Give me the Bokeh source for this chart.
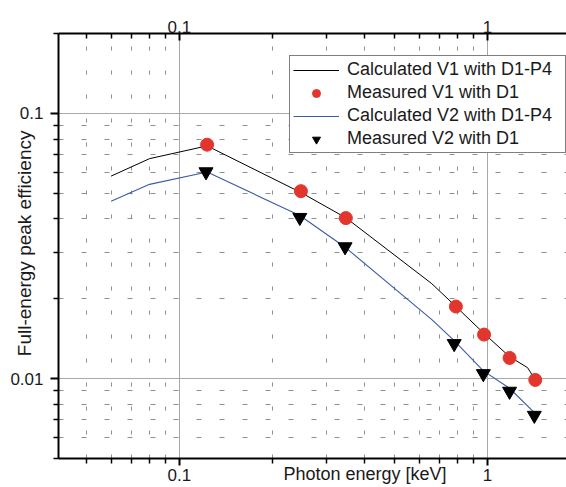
import math
from bokeh.plotting import figure
from bokeh.models import (LogAxis, FixedTicker, CustomJSTickFormatter, Legend,
                          LegendItem, Range1d)
from bokeh.embed import file_html
from bokeh.resources import INLINE

# ---- data ----
calc_v1_energy = [0.06, 0.08, 0.123, 0.248, 0.347, 0.66, 0.79, 0.975, 1.18, 1.35, 1.43]
calc_v1_eff = [0.0580, 0.0675, 0.0754, 0.0503, 0.0404, 0.0228, 0.0187, 0.0148, 0.0121, 0.0110, 0.0099]

meas_v1_energy = [0.123, 0.248, 0.347, 0.79, 0.975, 1.18, 1.43]
meas_v1_eff = [0.0762, 0.0509, 0.0403, 0.0187, 0.01466, 0.01197, 0.00989]

calc_v2_energy = [0.06, 0.08, 0.123, 0.246, 0.345, 0.66, 0.78, 0.97, 1.18, 1.42]
calc_v2_eff = [0.0466, 0.0540, 0.0601, 0.0412, 0.0313, 0.0167, 0.0139, 0.0107, 0.0092, 0.00745]

meas_v2_energy = [0.122, 0.246, 0.345, 0.78, 0.97, 1.18, 1.42]
meas_v2_eff = [0.0602, 0.0405, 0.0314, 0.01355, 0.01044, 0.00896, 0.00727]

series_labels = ["Calculated V1 with D1-P4", "Measured V1 with D1",
                 "Calculated V2 with D1-P4", "Measured V2 with D1"]
x_title = "Photon energy [keV]"
y_title = "Full-energy peak efficiency"

x_major = [0.1, 1]
y_major = [0.01, 0.1]
x_minor = [m * 10.0 ** e for e in (-2, -1, 0) for m in range(2, 10)]
y_minor = [m * 10.0 ** e for e in (-3, -2, -1) for m in range(2, 10)]

FONT = "Liberation Sans"
TXT = "#1a1a1a"
NB = "\u00a0"

p = figure(width=566, height=487, x_axis_type="log", y_axis_type="log",
           x_range=Range1d(0.0405, 1.806), y_range=Range1d(0.005, 0.2),
           output_backend="svg", toolbar_location=None,
           min_border_left=58, min_border_right=0,
           min_border_top=33, min_border_bottom=29)
p.outline_line_color = None
p.background_fill_color = "white"
p.border_fill_color = "white"

fmt = CustomJSTickFormatter(code="return tick.toString();")
xt = FixedTicker(ticks=x_major, minor_ticks=x_minor)
yt = FixedTicker(ticks=y_major, minor_ticks=y_minor)


def style_axis(ax, tin, tout, mtin, mtout, standoff):
    ax.formatter = fmt
    ax.axis_line_width = 2
    ax.axis_line_color = "black"
    ax.major_tick_line_width = 2
    ax.minor_tick_line_width = 1.5
    ax.major_tick_line_color = "black"
    ax.minor_tick_line_color = "black"
    ax.major_tick_in = tin
    ax.major_tick_out = tout
    ax.minor_tick_in = mtin
    ax.minor_tick_out = mtout
    ax.major_label_standoff = standoff
    ax.major_label_text_font = FONT
    ax.major_label_text_font_size = "17px"
    ax.major_label_text_color = TXT


p.xaxis.ticker = xt
p.yaxis.ticker = yt
p.xgrid.ticker = xt
p.ygrid.ticker = yt
style_axis(p.xaxis[0], 0, 7, 0, 5, 3)
style_axis(p.yaxis[0], 0, 8, 0, 5, 7)

# axis titles (pulled in with negative standoff so they share the tick-label band)
xa = p.xaxis[0]
xa.axis_label = NB * 21 + x_title
xa.axis_label_standoff = -20
xa.axis_label_text_font = FONT
xa.axis_label_text_font_size = "18px"
xa.axis_label_text_font_style = "normal"
xa.axis_label_text_color = TXT

ya = p.yaxis[0]
ya.axis_label = NB + y_title
ya.axis_label_standoff = -28
ya.axis_label_text_font = FONT
ya.axis_label_text_font_size = "19px"
ya.axis_label_text_font_style = "normal"
ya.axis_label_text_color = TXT

top = LogAxis(ticker=xt)
style_axis(top, 7, 0, 5, 0, 1)
p.add_layout(top, "above")

for g in (p.xgrid[0], p.ygrid[0]):
    g.grid_line_color = "#a8a8a8"
    g.grid_line_width = 1
    g.minor_grid_line_color = "#8f8f8f"
    g.minor_grid_line_width = 1
p.xgrid.minor_grid_line_dash = "4 20"
p.ygrid.minor_grid_line_dash = "5 18"

r1 = p.line(calc_v1_energy, calc_v1_eff, line_color="black", line_width=1)
r2 = p.scatter(meas_v1_energy, meas_v1_eff, marker="circle", size=13,
               fill_color="#e2352d", line_color="#e2352d")
r3 = p.line(calc_v2_energy, calc_v2_eff, line_color="#3c5aa6", line_width=1.1)
r4 = p.scatter(meas_v2_energy, meas_v2_eff, marker="inverted_triangle", size=14,
               fill_color="black", line_color="black")

legend = Legend(items=[LegendItem(label=series_labels[i] + NB * 2, renderers=[r])
                       for i, r in enumerate([r1, r2, r3, r4])],
                location=(231, 305), margin=0, padding=3, spacing=2,
                glyph_width=46, glyph_height=20, label_height=20,
                label_standoff=8,
                label_text_font=FONT, label_text_font_size="18px",
                label_text_color=TXT,
                border_line_color="black", border_line_width=1,
                background_fill_color="white", background_fill_alpha=1)
p.add_layout(legend)

open("out.html", "w").write(file_html(p, INLINE))
